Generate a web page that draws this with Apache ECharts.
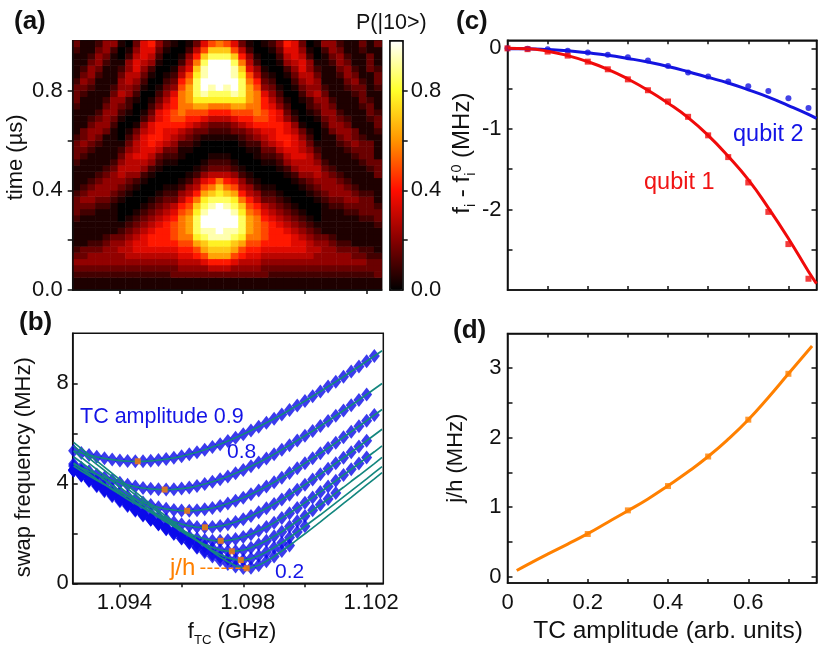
<!DOCTYPE html>
<html><head><meta charset="utf-8">
<style>html,body{margin:0;padding:0;background:#fff}#c{width:830px;height:664px}</style>
<script src="https://cdn.jsdelivr.net/npm/echarts@6/dist/echarts.min.js"></script>
</head><body><div id="c"></div>
<script>
// (a) P(|10>), one hex string per frequency column (t from 0 upward), 0..f = 0..1
const heatColumns = [
"1123432111123332111123332111123332111123",
"1123433111112343211112343311111234321111",
"1123443211112344321111234432111123443211",
"1123443211111234432111123443211111234432",
"1123444321111234443211111344432111112344",
"1123444431111123444321111123444321111124",
"1123445432100012345543210001234544321001",
"1123455543210001234555432100122445544210",
"1123456654321000124556554310001234566543",
"1123456665432100012456666542100012345666",
"1123456776543210001245677664321000124567",
"1123456777654321000123567776643210001234",
"1123456777765432100012356677765432100012",
"1133456788876532100012345678877643210001",
"1134567899998754210001124578999987542100",
"113456789aaa987542100012346789aaa9865421",
"1134578acdddcb975421000123578acdddcb9753",
"113468abdeffedca86421000134 68aceffeedb86",
"11357abceefffedb97532100123579cdeffffdb8",
"11357abceffffdcb95321001235 79cdfffffdb9",
"11357abceefffedb97532100123579cdeffffdb8",
"113468abdeffedca86421000134 68aceffeedb86",
"1134578acdddcb975421000123578acdddcb9753",
"113456789aaa987542100012346789aaa9865421",
"1134567899998754210001124578999987542100",
"1133456788876532100012345678877643210001",
"1123456777765432100012356677765432100012",
"1123456777654321000123567776643210001234",
"1123456776543210001245677664321000124567",
"1123456665432100012456666542100012345666",
"1123456654321000124556554310001234566543",
"1123455543210001234555432100122445544210",
"1123445432100012345543210001234544321001",
"1123444431111123444321111123444321111124",
"1123444321111234443211111344432111112344",
"1123443211111234432111123443211111234432",
"1123443211112344321111234432111123443211",
"1123433111112343211112343311111234321111",
"1123432111123332111123332111123332111123",
"1123322111123332111233331112332111133311",
"1133321111233211113331111233211123321113"
];
heatColumns[17] = "113468abdeffedca8642100013468aceffeedb86";
heatColumns[19] = "11357abcefffffdcb9532100123579cdfffffdb9";
heatColumns[21] = "113468abdeffedca8642100013468aceffeedb86";

// (b) measured swap frequency and fits, MHz, on the frequency list
const fGrid = [1.0925,1.09275,1.093,1.09325,1.0935,1.09375,1.094,1.09425,1.0945,1.09475,1.095,1.09525,1.0955,1.09575,1.096,1.09625,1.0965,1.09675,1.097,1.09725,1.0975,1.09775,1.098,1.09825,1.0985,1.09875,1.099,1.09925,1.0995,1.09975,1.1,1.10025,1.1005,1.10075,1.101,1.10125,1.1015,1.10175,1.102,1.10225,1.1025];
const fit90 = [5.30,5.21,5.13,5.06,5.00,4.95,4.91,4.89,4.88,4.88,4.90,4.93,4.97,5.02,5.08,5.16,5.24,5.34,5.45,5.56,5.69,5.82,5.96,6.11,6.26,6.42,6.58,6.75,6.93,7.11,7.29,7.48,7.67,7.87,8.06,8.26,8.47,8.67,8.88,9.09,9.30];
const fit80 = [4.77,4.62,4.48,4.35,4.23,4.12,4.02,3.94,3.87,3.81,3.78,3.76,3.75,3.76,3.79,3.83,3.89,3.97,4.06,4.16,4.27,4.40,4.53,4.68,4.83,4.99,5.16,5.34,5.52,5.71,5.90,6.09,6.29,6.49,6.70,6.91,7.12,7.33,7.55,7.77,7.99];
const fit70 = [4.69,4.49,4.30,4.12,3.95,3.78,3.63,3.48,3.35,3.23,3.13,3.04,2.98,2.93,2.91,2.90,2.92,2.96,3.01,3.09,3.19,3.30,3.42,3.56,3.71,3.87,4.04,4.22,4.41,4.60,4.80,5.00,5.20,5.41,5.62,5.84,6.06,6.28,6.50,6.73,6.95];
const fit60 = [4.81,4.59,4.38,4.16,3.96,3.75,3.56,3.36,3.18,3.01,2.85,2.70,2.57,2.46,2.37,2.30,2.25,2.24,2.25,2.29,2.36,2.45,2.56,2.69,2.84,3.00,3.17,3.35,3.54,3.74,3.94,4.15,4.36,4.58,4.80,5.02,5.24,5.47,5.70,5.93,6.16];
const fit50 = [5.06,4.83,4.60,4.36,4.14,3.91,3.69,3.47,3.25,3.04,2.84,2.64,2.45,2.28,2.12,1.98,1.87,1.78,1.72,1.70,1.72,1.77,1.85,1.96,2.10,2.25,2.42,2.61,2.80,3.01,3.22,3.43,3.65,3.87,4.10,4.33,4.56,4.79,5.03,5.26,5.50];
const fit40 = [5.29,5.04,4.80,4.56,4.32,4.09,3.85,3.61,3.38,3.15,2.93,2.70,2.49,2.27,2.07,1.88,1.71,1.55,1.43,1.33,1.29,1.29,1.33,1.42,1.55,1.70,1.88,2.06,2.27,2.48,2.69,2.92,3.14,3.37,3.61,3.84,4.08,4.31,4.55,4.79,5.04];
const fit30 = [5.50,5.25,5.01,4.76,4.52,4.27,4.03,3.79,3.54,3.30,3.06,2.83,2.59,2.36,2.13,1.91,1.70,1.49,1.31,1.15,1.02,0.95,0.93,0.99,1.10,1.25,1.43,1.62,1.83,2.05,2.28,2.51,2.74,2.98,3.22,3.46,3.70,3.94,4.18,4.43,4.67];
const fit20 = [5.64,5.39,5.15,4.90,4.65,4.40,4.15,3.91,3.66,3.41,3.17,2.92,2.68,2.44,2.19,1.95,1.72,1.49,1.26,1.05,0.86,0.70,0.61,0.62,0.72,0.88,1.07,1.29,1.51,1.75,1.98,2.22,2.46,2.71,2.95,3.20,3.44,3.69,3.94,4.18,4.43];
const swap60Left = [4.50,4.32,4.14,3.95,3.77,3.59,3.42,3.25,3.08,2.93,2.79,2.66,2.55,2.44,2.36,2.30,2.25];
const swap50Left = [4.50,4.30,4.09,3.88,3.68,3.48,3.28,3.09,2.90,2.71,2.54,2.38,2.22,2.09,1.97,1.87,1.79,1.73,1.70,1.70];
const swap40Left = [4.54,4.34,4.14,3.93,3.74,3.54,3.34,3.14,2.95,2.76,2.58,2.39,2.22,2.05,1.89,1.73,1.60,1.48,1.39,1.32,1.29];
const swap30Left = [4.54,4.34,4.14,3.94,3.74,3.54,3.34,3.14,2.94,2.74,2.55,2.35,2.16,1.98,1.80,1.62,1.45,1.30,1.16,1.05,0.98,0.94,0.93];
const swap20Left = [4.53,4.33,4.13,3.94,3.74,3.54,3.34,3.15,2.95,2.76,2.56,2.37,2.17,1.98,1.79,1.61,1.42,1.24,1.07,0.91,0.77,0.67,0.61,0.62];
const swapSets = [
  fit90.slice(0,40), fit80.slice(0,39), fit70.slice(0,40),
  swap60Left.concat(fit60.slice(17,39)), swap50Left.concat(fit50.slice(20,39)),
  swap40Left.concat(fit40.slice(21,35)), swap30Left.concat(fit30.slice(23,31)), swap20Left.concat(fit20.slice(24,29))
];
const fitSets = [fit90,fit80,fit70,fit60,fit50,fit40,fit30,fit20];
const minF = [1.09458,1.09545,1.09618,1.09676,1.09727,1.09763,1.09792,1.09811];
const minV = [4.88,3.75,2.90,2.24,1.70,1.28,0.93,0.60];

// (c) frequency shifts
const ampC = [0,0.05,0.1,0.15,0.2,0.25,0.3,0.35,0.4,0.45,0.5,0.55,0.6,0.65,0.7,0.75];
const qubit2Dots = [0,-0.004,-0.012,-0.03,-0.05,-0.08,-0.11,-0.15,-0.22,-0.30,-0.35,-0.41,-0.47,-0.53,-0.62,-0.74];
const qubit1Dots = [0,-0.01,-0.04,-0.09,-0.165,-0.26,-0.385,-0.52,-0.66,-0.85,-1.08,-1.35,-1.665,-2.03,-2.43,-2.86];
const ampFit = [0,0.05,0.1,0.15,0.2,0.25,0.3,0.35,0.4,0.45,0.5,0.55,0.6,0.65,0.7,0.75,0.77];
const qubit2Fit = [-0.005,-0.006,-0.015,-0.03,-0.055,-0.085,-0.125,-0.17,-0.225,-0.29,-0.36,-0.43,-0.515,-0.605,-0.71,-0.82,-0.87];
const qubit1Fit = [0,-0.005,-0.035,-0.09,-0.165,-0.26,-0.38,-0.52,-0.68,-0.86,-1.08,-1.34,-1.63,-1.98,-2.36,-2.77,-2.92];

// (d) coupling
const ampD = [0.2,0.3,0.4,0.5,0.6,0.7];
const jDots = [0.615,0.955,1.305,1.73,2.26,2.92];
const ampDFit = [0.023,0.05,0.1,0.15,0.2,0.25,0.3,0.35,0.4,0.45,0.5,0.55,0.6,0.65,0.7,0.759];
const jFit = [0.09,0.175,0.325,0.47,0.62,0.785,0.95,1.12,1.31,1.51,1.73,1.98,2.26,2.58,2.92,3.32];

const freqTicks = [1.094,1.096,1.098,1.1,1.102];
const FONT = '"Liberation Sans",Arial,sans-serif';
const INK = '#111', BLUE = '#1414e6', RED = '#f01414', ORANGE = '#ff8000', TEAL = '#14877f';
const pairs = (xs, ys) => ys.map((y, i) => [xs[i], y]);
const axLine = {show:true, onZero:false, lineStyle:{color:'#111', width:1.5}};
const tick = (vals, inside, len) => ({show:true, inside, length:len||5, customValues:vals, lineStyle:{color:'#111', width:1.5}});
const labels = (vals, fmt, margin, padding) => ({show:true, customValues:vals, formatter:fmt, margin, color:INK, fontFamily:FONT, fontSize:22, padding:padding||0});
const nameStyle = (size, padding) => ({color:INK, fontFamily:FONT, fontSize:size, padding:padding||0,
  rich:{n:{fontSize:size,fontFamily:FONT,color:INK}, s:{fontSize:size*0.6,fontFamily:FONT,color:INK,verticalAlign:'bottom',padding:[0,0,-4,0]}, p:{fontSize:size*0.6,fontFamily:FONT,color:INK,verticalAlign:'top'}}});
const frame = (l,t,w,h) => ({left:l, top:t, width:w, height:h, show:true, borderColor:'#111', borderWidth:1.5, backgroundColor:'transparent', containLabel:false});
const off = {show:false};

const grid = [frame(72.7,40.7,309,249.3), frame(72.7,333.3,310.6,250), frame(507.5,40.3,309,249.7), frame(507.5,333.5,309,249.5), frame(390,40.7,12.7,249.3)];
const xAxis = [
 {gridIndex:0,type:'category',show:false,boundaryGap:true,data:heatColumns.map((_,i)=>i)},
 {gridIndex:0,type:'value',min:1.09247,max:1.10249,position:'bottom',axisLine:axLine,splitLine:off,axisLabel:off,axisTick:tick(freqTicks,false,4),z:5},
 {gridIndex:1,type:'value',min:1.09247,max:1.10254,position:'bottom',axisLine:axLine,splitLine:off,axisTick:tick(freqTicks,false,4),
  axisLabel:labels([1.094,1.098,1.102],v=>v.toFixed(3),9,[0,0,0,9]),
  name:'{n|f}{s|TC}{n| (GHz)}',nameLocation:'middle',nameGap:38,nameTextStyle:nameStyle(22,[0,0,0,8])},
 {gridIndex:2,type:'value',min:0,max:0.77,position:'bottom',axisLine:axLine,splitLine:off,axisLabel:off,axisTick:tick([0.1,0.2,0.3,0.4,0.5,0.6,0.7],true,4)},
 {gridIndex:2,type:'value',min:0,max:0.77,position:'top',axisLine:axLine,splitLine:off,axisLabel:off,axisTick:tick([0.1,0.2,0.3,0.4,0.5,0.6,0.7],true,4)},
 {gridIndex:3,type:'value',min:0,max:0.77,position:'bottom',axisLine:axLine,splitLine:off,axisTick:tick([0.1,0.2,0.3,0.4,0.5,0.6,0.7],true,4),
  axisLabel:labels([0,0.2,0.4,0.6],v=>v===0?'0':v.toFixed(1),9),
  name:'TC amplitude (arb. units)',nameLocation:'middle',nameGap:36,nameTextStyle:nameStyle(24.5,[0,0,0,12])},
 {gridIndex:3,type:'value',min:0,max:0.77,position:'top',axisLine:axLine,splitLine:off,axisLabel:off,axisTick:tick([0.1,0.2,0.3,0.4,0.5,0.6,0.7],true,4)},
 {gridIndex:4,type:'value',min:0,max:1,position:'bottom',axisLine:axLine,splitLine:off,axisLabel:off,axisTick:off,z:6},
 {gridIndex:4,type:'value',min:0,max:1,position:'top',axisLine:axLine,splitLine:off,axisLabel:off,axisTick:off,z:6}
];
const yAxis = [
 {gridIndex:0,type:'category',show:false,boundaryGap:true,data:heatColumns[0].split('').map((_,i)=>i)},
 {gridIndex:0,type:'value',min:0,max:1,position:'left',axisLine:axLine,splitLine:off,axisTick:tick([0,0.2,0.4,0.6,0.8],false,5),
  axisLabel:labels([0,0.4,0.8],v=>v.toFixed(1),10),
  name:'time (\u00b5s)',nameLocation:'middle',nameGap:46,nameTextStyle:nameStyle(22,[0,0,0,16]),z:5},
 {gridIndex:1,type:'value',min:0,max:10,position:'left',axisLine:axLine,splitLine:off,axisTick:tick([0,2,4,6,8],true,5),
  axisLabel:labels([0,4,8],v=>String(v),4),
  name:'swap frequency (MHz)',nameLocation:'middle',nameGap:38,nameTextStyle:nameStyle(22,[0,18,0,0])},
 {gridIndex:2,type:'value',min:-3,max:0.1,position:'left',axisLine:axLine,splitLine:off,axisTick:tick([-2.5,-2,-1.5,-1,-0.5,0],true,5),
  axisLabel:labels([-2,-1,0],v=>String(v),6),
  name:'{n|f}{s|i}{n| - f}{s|i}{p|0}{n| (MHz)}',nameLocation:'middle',nameGap:31,nameTextStyle:nameStyle(24,[0,0,0,24])},
 {gridIndex:2,type:'value',min:-3,max:0.1,position:'right',axisLine:axLine,splitLine:off,axisLabel:off,axisTick:tick([-2.5,-2,-1.5,-1,-0.5,0],true,5)},
 {gridIndex:3,type:'value',min:-0.09,max:3.5,position:'left',axisLine:axLine,splitLine:off,axisTick:tick([0,0.5,1,1.5,2,2.5,3],true,5),
  axisLabel:labels([0,1,2,3],v=>String(v),6),
  name:'j/h (MHz)',nameLocation:'middle',nameGap:41,nameTextStyle:nameStyle(22)},
 {gridIndex:3,type:'value',min:-0.09,max:3.5,position:'right',axisLine:axLine,splitLine:off,axisLabel:off,axisTick:tick([0,0.5,1,1.5,2,2.5,3],true,5)},
 {gridIndex:4,type:'value',min:0,max:1,position:'left',axisLine:axLine,splitLine:off,axisLabel:off,axisTick:off,z:6},
 {gridIndex:4,type:'value',min:0,max:1,position:'right',axisLine:axLine,splitLine:off,axisTick:tick([0.2,0.4,0.6,0.8],false,5),
  axisLabel:labels([0,0.4,0.8],v=>v.toFixed(1),8),z:6}
];

const heatData = [];
heatColumns.forEach((col,i)=>col.split('').forEach((ch,k)=>heatData.push([i,k,Math.pow(parseInt(ch,16)/15,1.15)])));

const series = [{type:'heatmap',xAxisIndex:0,yAxisIndex:0,data:heatData,itemStyle:{borderWidth:0},emphasis:{disabled:true},progressive:0}];
swapSets.forEach(vals=>series.push({type:'scatter',xAxisIndex:2,yAxisIndex:2,symbol:'diamond',symbolSize:[11,14],itemStyle:{color:'#0a0aea'},data:pairs(fGrid,vals),silent:true}));
fitSets.forEach(vals=>series.push({type:'line',xAxisIndex:2,yAxisIndex:2,showSymbol:false,smooth:false,lineStyle:{color:TEAL,width:1.7},data:pairs(fGrid,vals),silent:true}));
series.push({type:'scatter',xAxisIndex:2,yAxisIndex:2,symbol:'rect',symbolSize:6,itemStyle:{color:ORANGE},data:pairs(minF,minV),z:5});
series.push({type:'line',xAxisIndex:2,yAxisIndex:2,showSymbol:false,lineStyle:{color:ORANGE,width:1.5,type:[5,2]},data:[[1.09661,0.6],[1.0981,0.6]],z:5});
series.push({type:'line',xAxisIndex:3,yAxisIndex:3,showSymbol:false,smooth:true,lineStyle:{color:'#1414e0',width:3},data:pairs(ampFit,qubit2Fit)});
series.push({type:'line',xAxisIndex:3,yAxisIndex:3,showSymbol:false,smooth:true,lineStyle:{color:'#f00a0a',width:3},data:pairs(ampFit,qubit1Fit)});
series.push({type:'scatter',xAxisIndex:3,yAxisIndex:3,symbol:'circle',symbolSize:6,itemStyle:{color:'#1414e0'},data:pairs(ampC,qubit2Dots)});
series.push({type:'scatter',xAxisIndex:3,yAxisIndex:3,symbol:'rect',symbolSize:6,itemStyle:{color:'#f00a0a'},data:pairs(ampC,qubit1Dots)});
series.push({type:'line',xAxisIndex:5,yAxisIndex:5,showSymbol:false,smooth:true,lineStyle:{color:ORANGE,width:3},data:pairs(ampDFit,jFit)});
series.push({type:'scatter',xAxisIndex:5,yAxisIndex:5,symbol:'rect',symbolSize:6,itemStyle:{color:ORANGE},data:pairs(ampD,jDots)});

const txt = (x,y,text,opts) => ({type:'text',left:x,top:y,silent:true,z:20,style:Object.assign({text,fontFamily:FONT,fontSize:22,fill:INK},opts||{})});
const bold = {fontWeight:'bold',fontSize:26};
const graphic = [
 txt(14,9,'(a)',bold), txt(19,310,'(b)',bold), txt(456,9,'(c)',bold), txt(453,318,'(d)',bold),
 txt(356,12,'P(|10>)',{fontSize:21.5}),
 txt(80,406,'TC amplitude 0.9',{fill:BLUE,fontSize:21.5}),
 txt(227,442,'0.8',{fill:BLUE,fontSize:21}),
 txt(275,562,'0.2',{fill:BLUE,fontSize:21}),
 txt(170,556,'j/h',{fill:ORANGE,fontSize:24}),
 txt(733,123,'qubit 2',{fill:BLUE,fontSize:23.5}),
 txt(644,171,'qubit 1',{fill:RED,fontSize:23.5})
];

const chart = echarts.init(document.getElementById('c'),null,{renderer:'canvas'});
chart.setOption({
 animation:false, backgroundColor:'#fff', grid, xAxis, yAxis, series, graphic,
 visualMap:{type:'continuous',seriesIndex:0,min:0,max:1,left:390,top:41,itemWidth:12.7,itemHeight:249,padding:0,text:null,calculable:false,hoverLink:false,
  inRange:{color:['#000000','#870000','#ff0d00','#ff9400','#ffff2a','#ffffff']}}
});
</script></body></html>
